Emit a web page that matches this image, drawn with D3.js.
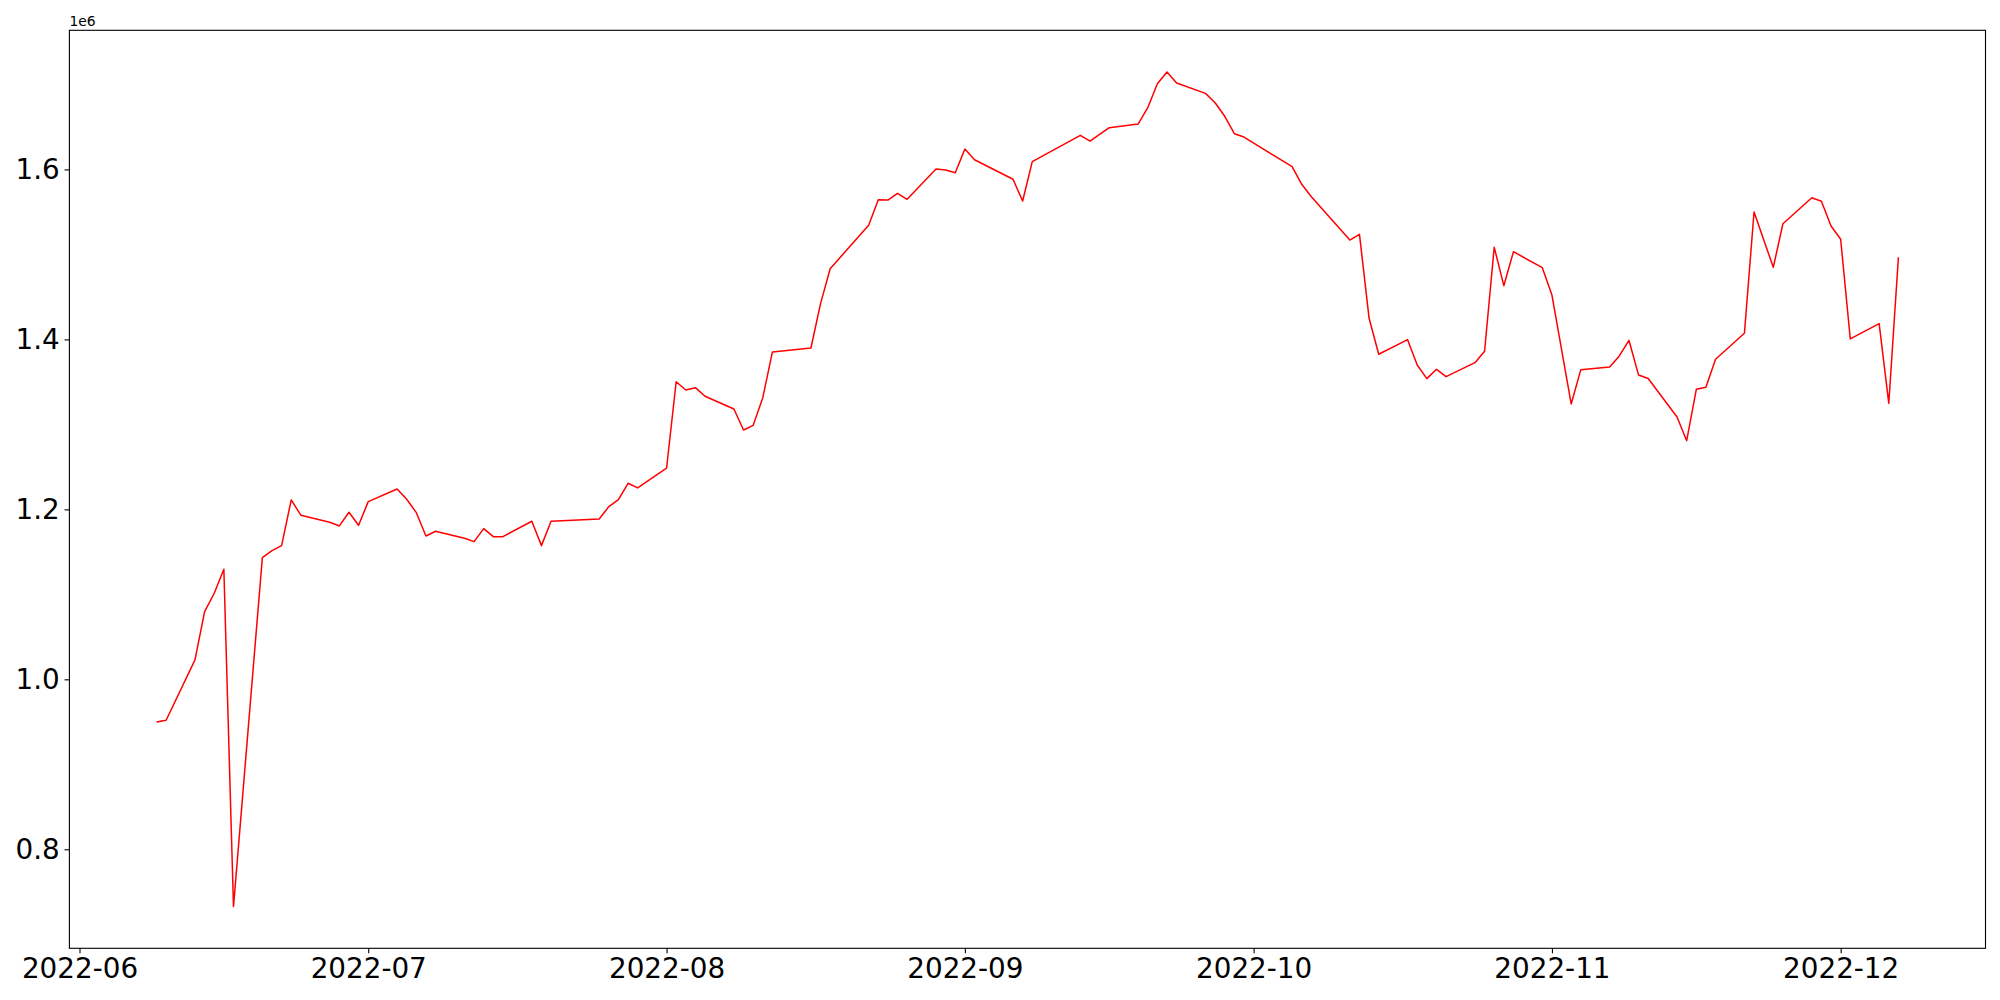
<!DOCTYPE html>
<html>
<head>
<meta charset="utf-8">
<script src="https://cdn.jsdelivr.net/npm/d3@7"></script>
<style>
  html, body { margin: 0; padding: 0; background: #fff; }
  svg { display: block; font-family: "DejaVu Sans", sans-serif; }
</style>
</head>
<body>
<svg id="chart" width="2000" height="1000"></svg>
<script>
// ---- data ----
const dates = [
  "2022-06-09","2022-06-10","2022-06-13","2022-06-14","2022-06-15","2022-06-16","2022-06-17",
  "2022-06-20","2022-06-21","2022-06-22","2022-06-23","2022-06-24",
  "2022-06-27","2022-06-28","2022-06-29","2022-06-30","2022-07-01",
  "2022-07-04","2022-07-05","2022-07-06","2022-07-07","2022-07-08",
  "2022-07-11","2022-07-12","2022-07-13","2022-07-14","2022-07-15",
  "2022-07-18","2022-07-19","2022-07-20",
  "2022-07-25","2022-07-26","2022-07-27","2022-07-28","2022-07-29",
  "2022-08-01","2022-08-02","2022-08-03","2022-08-04","2022-08-05",
  "2022-08-08","2022-08-09","2022-08-10","2022-08-11","2022-08-12",
  "2022-08-16","2022-08-17","2022-08-18",
  "2022-08-22","2022-08-23","2022-08-24","2022-08-25","2022-08-26",
  "2022-08-29","2022-08-30","2022-08-31","2022-09-01","2022-09-02",
  "2022-09-06","2022-09-07","2022-09-08",
  "2022-09-13","2022-09-14","2022-09-16",
  "2022-09-19","2022-09-20","2022-09-21","2022-09-22","2022-09-23",
  "2022-09-26","2022-09-27","2022-09-28","2022-09-29","2022-09-30",
  "2022-10-05","2022-10-06","2022-10-07",
  "2022-10-11","2022-10-12","2022-10-13","2022-10-14",
  "2022-10-17","2022-10-18","2022-10-19","2022-10-20","2022-10-21",
  "2022-10-24","2022-10-25","2022-10-26","2022-10-27","2022-10-28",
  "2022-10-31","2022-11-01","2022-11-03","2022-11-04",
  "2022-11-07","2022-11-08","2022-11-09","2022-11-10","2022-11-11",
  "2022-11-14","2022-11-15","2022-11-16","2022-11-17","2022-11-18",
  "2022-11-21","2022-11-22","2022-11-24","2022-11-25",
  "2022-11-28","2022-11-29","2022-11-30","2022-12-01","2022-12-02",
  "2022-12-05","2022-12-06","2022-12-07"
];
const values = [
  949900, 951900, 1022800, 1079600, 1101300, 1129500, 732600,
  1143200, 1151400, 1157300, 1211100, 1193100,
  1184800, 1180500, 1196600, 1181300, 1209100,
  1224000, 1211900, 1196100, 1168700, 1174200,
  1166000, 1162000, 1177300, 1167900, 1167900,
  1186000, 1157300, 1186000,
  1188700, 1203200, 1211400, 1230700, 1225200,
  1248400, 1350200, 1340500, 1343200, 1333100,
  1318100, 1293400, 1298900, 1331400, 1385200,
  1389900, 1442100, 1483200,
  1534200, 1564400, 1564000, 1571900, 1564800,
  1600500, 1599300, 1596100, 1624000, 1611400,
  1588400, 1562800, 1609100,
  1640100, 1633400, 1649100,
  1653400, 1672600, 1700800, 1714600, 1701600,
  1689500, 1678500, 1662500, 1642000, 1638100,
  1603200, 1582500, 1567900,
  1516900, 1523600, 1424800, 1382500,
  1399700, 1369900, 1353800, 1364800, 1356100,
  1372600, 1386000, 1508400, 1463200, 1503200,
  1484400, 1452200, 1324000, 1364400,
  1367500, 1380500, 1398900, 1358000, 1354000,
  1308700, 1280800, 1341300, 1343600, 1376600,
  1407200, 1549900, 1484800, 1536100,
  1566700, 1562500, 1533400, 1517800, 1400500,
  1418600, 1324800, 1496600
];
const xTickLabels = ["2022-06","2022-07","2022-08","2022-09","2022-10","2022-11","2022-12"];
const yTickValues = [800000, 1000000, 1200000, 1400000, 1600000];
const offsetLabel = "1e6";

(function () {
// ---- layout ----
const W = 2000, H = 1000;
const mLeft = 69.4, mRight = 1985.5, mTop = 30.3, mBottom = 948.3;
const fontPx = 27.8, tickLen = 4.86, tickPad = 4.86;

const parse = d3.timeParse("%Y-%m-%d");
const pts = dates.map((d, i) => ({ date: parse(d), value: values[i] }));

const svg = d3.select("#chart");
svg.append("rect").attr("width", W).attr("height", H).attr("fill", "#fff");

// x domain with 5% margins (matplotlib style)
const [x0, x1] = d3.extent(pts, d => d.date);
const span = x1 - x0;
const x = d3.scaleTime()
  .domain([new Date(+x0 - 0.05 * span), new Date(+x1 + 0.05 * span)])
  .range([mLeft, mRight]);

const [y0, y1] = d3.extent(pts, d => d.value);
const ys = y1 - y0;
const y = d3.scaleLinear()
  .domain([y0 - 0.05 * ys, y1 + 0.05 * ys])
  .range([mBottom, mTop]);

// line
const line = d3.line().x(d => x(d.date)).y(d => y(d.value));
svg.append("path")
  .datum(pts)
  .attr("fill", "none")
  .attr("stroke", "#ff0000")
  .attr("stroke-width", 1.5)
  .attr("stroke-linejoin", "round")
  .attr("d", line);

// axes
const monthParse = d3.timeParse("%Y-%m");
const xAxis = d3.axisBottom(x)
  .tickValues(xTickLabels.map(monthParse))
  .tickFormat(d3.timeFormat("%Y-%m"))
  .tickSize(tickLen).tickPadding(tickPad);
const gx = svg.append("g").attr("transform", `translate(0,${mBottom})`).call(xAxis);
gx.select(".domain").remove();
gx.selectAll("line").attr("stroke", "#000").attr("stroke-width", 1.1);
gx.selectAll("text").attr("font-size", fontPx).attr("fill", "#000")
  .attr("font-family", "DejaVu Sans, sans-serif");

const yAxis = d3.axisLeft(y)
  .tickValues(yTickValues)
  .tickFormat(v => (v / 1e6).toFixed(1))
  .tickSize(tickLen).tickPadding(tickPad);
const gy = svg.append("g").attr("transform", `translate(${mLeft},0)`).call(yAxis);
gy.select(".domain").remove();
gy.selectAll("line").attr("stroke", "#000").attr("stroke-width", 1.1);
gy.selectAll("text").attr("font-size", fontPx).attr("fill", "#000")
  .attr("font-family", "DejaVu Sans, sans-serif");

// frame (spines)
svg.append("rect")
  .attr("x", mLeft).attr("y", mTop)
  .attr("width", mRight - mLeft).attr("height", mBottom - mTop)
  .attr("fill", "none").attr("stroke", "#000").attr("stroke-width", 1.1);

// offset text
svg.append("text")
  .attr("x", mLeft).attr("y", 25.5)
  .attr("font-size", 13.9)
  .attr("fill", "#000")
  .text(offsetLabel);
})();
</script>
</body>
</html>
